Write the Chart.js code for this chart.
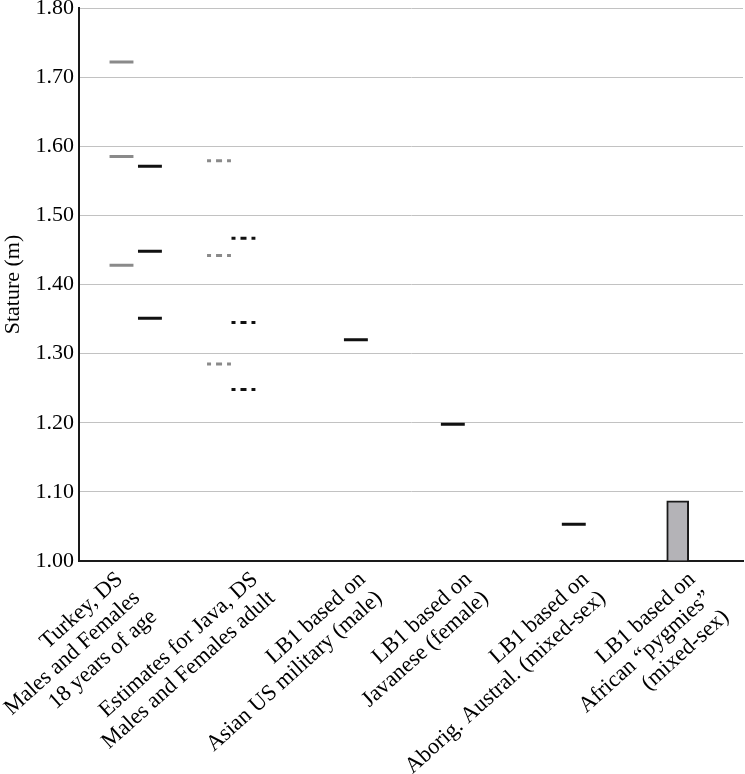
<!DOCTYPE html>
<html><head><meta charset="utf-8">
<script src="https://cdn.jsdelivr.net/npm/chart.js@4"></script>
<style>html,body{margin:0;padding:0;background:#fff}#wrap{width:745px;height:774px}</style>
</head><body><div id="wrap"><canvas id="c" width="745" height="774"></canvas></div>
<script>
// ---- data ----
const categories = [
  ['Turkey, DS', 'Males and Females', '18 years of age'],
  ['Estimates for Java, DS', 'Males and Females adult'],
  ['LB1 based on', 'Asian US military (male)'],
  ['LB1 based on', 'Javanese (female)'],
  ['LB1 based on', 'Aborig. Austral. (mixed-sex)'],
  ['LB1 based on', 'African \u201Cpygmies\u201D', '(mixed-sex)']
];
const yTickValues = [1.00, 1.10, 1.20, 1.30, 1.40, 1.50, 1.60, 1.70, 1.80];
const turkeyMales = [1.722, 1.585, 1.428];
const turkeyFemales = [1.571, 1.448, 1.351];
const javaMales = [1.579, 1.442, 1.285];
const javaFemales = [1.467, 1.345, 1.248];
const lb1Marks = [1.320, 1.198, 1.053];
const lb1Pygmy = [1.087];

// ---- layout (positions in category units on the x scale) ----
const slotTurkeyMales = 0.384, slotTurkeyFemales = 0.641;
const slotJavaMales = 1.265, slotJavaFemales = 1.486;
const slotLb1 = [2.502, 3.378, 4.471];
const slotPygmy = 5.41;
const halfW = 0.108;
const labelPos = [0.37, 1.59, 2.56, 3.52, 4.58, 5.54];

function segs(values, cx) {
  const pts = [];
  values.forEach((v, i) => {
    const c = Array.isArray(cx) ? cx[i] : cx;
    pts.push({x: c - halfW, y: v}, {x: c + halfW, y: v}, {x: c, y: null});
  });
  return pts;
}
const FONT = '"Liberation Serif", "Times New Roman", serif';
const GRAY = '#8a8a8a', BLACK = '#111111';
const lineBase = {type: 'line', pointRadius: 0, borderWidth: 3, borderCapStyle: 'butt', fill: false, spanGaps: false, tension: 0};
const DASH = [4, 5, 6, 5];

new Chart(document.getElementById('c'), {
  type: 'line',
  data: {
    datasets: [
      Object.assign({}, lineBase, {label: 'Turkey males', data: segs(turkeyMales, slotTurkeyMales), borderColor: GRAY}),
      Object.assign({}, lineBase, {label: 'Turkey females', data: segs(turkeyFemales, slotTurkeyFemales), borderColor: BLACK}),
      Object.assign({}, lineBase, {label: 'Java males', data: segs(javaMales, slotJavaMales), borderColor: GRAY, borderDash: DASH}),
      Object.assign({}, lineBase, {label: 'Java females', data: segs(javaFemales, slotJavaFemales), borderColor: BLACK, borderDash: DASH}),
      Object.assign({}, lineBase, {label: 'LB1', data: segs(lb1Marks, slotLb1), borderColor: BLACK}),
      {type: 'bar', label: 'LB1 pygmies', data: lb1Pygmy.map(v => ({x: slotPygmy, y: v})), base: 1,
       barThickness: 22, backgroundColor: '#b4b3b7', borderColor: '#1a1a1a', borderWidth: 2}
    ]
  },
  options: {
    responsive: false,
    animation: false,
    layout: {padding: {top: 8, right: 2, left: 0, bottom: 0}},
    plugins: {legend: {display: false}, tooltip: {enabled: false}},
    scales: {
      x: {
        type: 'linear', min: 0, max: 6, offset: false,
        grid: {display: false, offset: false},
        border: {display: true, color: '#1a1a1a', width: 2},
        afterBuildTicks: s => { s.ticks = labelPos.map(v => ({value: v})); },
        afterFit: s => { s.height = 213; s.paddingLeft = 0; s.paddingRight = 0; },
        ticks: {
          autoSkip: false, maxRotation: 42, minRotation: 42, padding: -2,
          color: '#000', font: {family: FONT, size: 22.5, lineHeight: 1.12},
          callback: (v, i) => categories[i]
        }
      },
      y: {
        type: 'linear', min: 1.0, max: 1.8,
        grid: {color: '#c2c2c2', lineWidth: 1, drawTicks: false},
        border: {display: true, color: '#1a1a1a', width: 2},
        afterBuildTicks: s => { s.ticks = yTickValues.map(v => ({value: v})); },
        afterFit: s => { s.width = 79; s.paddingTop = 0; s.paddingBottom = 0; },
        ticks: {color: '#000', padding: 5, font: {family: FONT, size: 22},
          callback: v => Number(v).toFixed(2)},
        title: {display: true, text: 'Stature (m)', color: '#000', padding: 0,
          font: {family: FONT, size: 22}}
      }
    }
  }
});
</script></body></html>
